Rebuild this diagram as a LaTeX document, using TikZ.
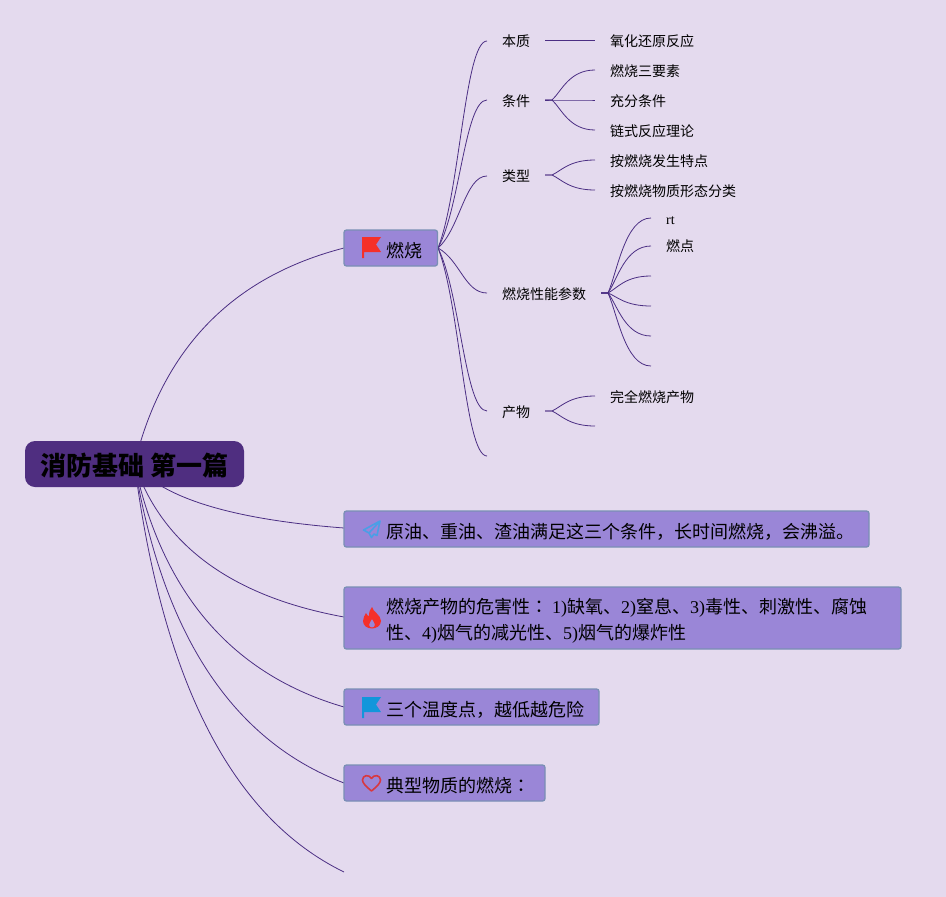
\documentclass[tikz,border=0pt]{standalone}
\usepackage{fontspec}
\setmainfont{Noto Sans CJK SC}
\newfontfamily\latfont{Liberation Serif}
\newfontfamily\jpfont{Noto Sans CJK JP}
\newcommand\Lat[1]{{\latfont #1}}
\newcommand\Colon{{\jpfont ：}}
\usetikzlibrary{calc}
\pgfdeclarelayer{bg}
\pgfsetlayers{bg,main}
\definecolor{bgcol}{HTML}{E4DAEE}
\definecolor{boxfill}{HTML}{9A86D7}
\definecolor{boxline}{HTML}{7A8FB5}
\definecolor{rootfill}{HTML}{4F2E80}
\definecolor{linkcol}{HTML}{4B2E83}
\definecolor{iconred}{HTML}{F5302A}
\definecolor{iconblue}{HTML}{1296DB}
\definecolor{planeblue}{HTML}{4A9FE6}
\definecolor{heartred}{HTML}{D8383F}
\tikzset{
  link/.style={draw=linkcol,line width=0.8pt},
  leaf/.style={anchor=west,inner sep=0pt,yshift=-2pt,text=black,font=\fontsize{14}{16}\selectfont,text height=.88em,text depth=.12em},
  topic/.style={anchor=west,inner sep=0pt,yshift=-1.5pt,text=black,font=\fontsize{18}{26}\selectfont},
  boxed/.style={draw=boxline,fill=boxfill,line width=1.3pt,rounded corners=2.5pt},
}
% first level: quadratic curve written as a cubic
\newcommand\rootlink[2]{\draw[link] let \p1=(#1),\p2=(#2),
  \n1={\x1+.1333*(\x2-\x1)},\n2={\y1+.5333*(\y2-\y1)},
  \n3={\x2-.5333*(\x2-\x1)},\n4={\y2-.1333*(\y2-\y1)} in
  (\p1) .. controls (\n1,\n2) and (\n3,\n4) .. (\p2);}
% second level: curve from the box
\newcommand\boxlink[2]{\draw[link] let \p1=(#1),\p2=(#2),
  \n1={\x1+.45*(\x2-\x1)},\n2={\y1+.27*(\y2-\y1)},\n3={\x1+.55*(\x2-\x1)} in
  (\p1) .. controls (\n1,\n2) and (\n3,\y2) .. (\p2);}
% third level: short straight stub, then curve
\newcommand\kidlink[2]{\draw[link] let \p1=(#1),\p2=(#2),
  \n5={\x1+7pt},
  \n1={\n5+.22*(\x2-\n5)},\n2={\y1+.29*(\y2-\y1)},\n3={\n5+.4*(\x2-\n5)} in
  (\p1) -- (\n5,\y1) .. controls (\n1,\n2) and (\n3,\y2) .. (\p2);}
\begin{document}
\begin{tikzpicture}[x=1pt,y=-1pt]
\useasboundingbox (0,0) rectangle (946,897);
\begin{pgfonlayer}{bg}
  \fill[bgcol] (0,0) rectangle (946,897);
\end{pgfonlayer}

% root
\node[fill=rootfill,rounded corners=10pt,minimum width=219pt,minimum height=46pt,inner sep=0pt,text=black,text height=26pt,text depth=3pt,font=\fontsize{26}{30}\selectfont\bfseries] (root) at (134.5,464) {消防基础 第一篇};

% first level boxes
\path[boxed] (344,230) rectangle (437.5,266);
\coordinate (b1) at (344,248);
\coordinate (b1e) at (438,248);
\path[boxed] (344,511) rectangle (869,547);
\coordinate (b2) at (344,528);
\path[boxed] (344,587) rectangle (901,649);
\coordinate (b3) at (344,617);
\path[boxed] (344,689) rectangle (599,725);
\coordinate (b4) at (344,707);
\path[boxed] (344,765) rectangle (545,801);
\coordinate (b5) at (344,783);
\coordinate (b6) at (344,872);

\node[topic] (t1) at (386,249) {燃烧};
\node[topic] (t2) at (386,530.5) {原油、重油、渣油满足这三个条件，长时间燃烧，会沸溢。};
\node[topic,align=left,yshift=-0.5pt] (t3) at (386,619) {燃烧产物的危害性\Colon{} \Lat{1)}缺氧、\Lat{2)}窒息、\Lat{3)}毒性、刺激性、腐蚀\\性、\Lat{4)}烟气的减光性、\Lat{5)}烟气的爆炸性};
\node[topic] (t4) at (386,708) {三个温度点，越低越危险};
\node[topic] (t5) at (386,784) {典型物质的燃烧\Colon};

% icons
\fill[iconred] (362,237) -- (381,237) -- (376,244.5) -- (381,252) -- (364,252) -- (364,258) -- (362,258) -- cycle;
\fill[iconblue] (362,697) -- (381,697) -- (376,704.5) -- (381,712) -- (364,712) -- (364,718) -- (362,718) -- cycle;
\draw[planeblue,line width=1.6pt,line join=round] (380,521) -- (363.5,530) -- (369,533) -- (371.5,537.5) -- (374,534) -- (377,535.5) -- cycle (380,521) -- (369,533);
\fill[iconred,even odd rule] (372,607) .. controls (373,612) and (381,615) .. (381,621)
  .. controls (381,626) and (376,628.5) .. (372,628.5)
  .. controls (367,628.5) and (363,625.5) .. (363,621)
  .. controls (363,617.5) and (365,615) .. (366,613)
  .. controls (367,615) and (368,616) .. (369,616)
  .. controls (369,612) and (370,609) .. (372,607) -- cycle
  (372,619) .. controls (371,621.5) and (369,622.5) .. (369,625)
  .. controls (369,626.5) and (370.5,627.5) .. (372,627.5)
  .. controls (373.5,627.5) and (375,626.5) .. (375,625)
  .. controls (375,622.5) and (373,621.5) .. (372,619) -- cycle;
\draw[heartred,line width=1.6pt,line join=round] (371.5,791) .. controls (366,786.5) and (362.5,783) .. (362.5,780)
  .. controls (362.5,775) and (369,774) .. (371.5,778.5)
  .. controls (374,774) and (380.5,775) .. (380.5,780)
  .. controls (380.5,783) and (377,786.5) .. (371.5,791) -- cycle;

% second level
\coordinate (c1) at (487,41);
\coordinate (c2) at (487,100);
\coordinate (c3) at (487,176);
\coordinate (c4) at (487,293);
\coordinate (c5) at (487,411);
\coordinate (c6) at (487,456);
\node[leaf] (n1) at (502,41) {本质};
\node[leaf] (n2) at (502,101) {条件};
\node[leaf] (n3) at (502,176) {类型};
\node[leaf] (n4) at (502,294) {燃烧性能参数};
\node[leaf] (n5) at (502,412) {产物};

% third level
\coordinate (s1) at (545,40);
\coordinate (e1) at (595,40);
\node[leaf] (l1) at (610,41) {氧化还原反应};
\coordinate (s2) at (545,100);
\coordinate (e21) at (595,70);
\coordinate (e22) at (595,100);
\coordinate (e23) at (595,130);
\node[leaf] (l21) at (610,71) {燃烧三要素};
\node[leaf] (l22) at (610,101) {充分条件};
\node[leaf] (l23) at (610,131) {链式反应理论};
\coordinate (s3) at (545,175);
\coordinate (e31) at (595,160);
\coordinate (e32) at (595,190);
\node[leaf] (l31) at (610,161) {按燃烧发生特点};
\node[leaf] (l32) at (610,191) {按燃烧物质形态分类};
\coordinate (s4) at (601,293);
\coordinate (e41) at (651,218);
\coordinate (e42) at (651,246);
\coordinate (e43) at (651,276);
\coordinate (e44) at (651,306);
\coordinate (e45) at (651,336);
\coordinate (e46) at (651,366);
\node[leaf] (l41) at (666,218.5) {\Lat{rt}};
\node[leaf] (l42) at (666,245.5) {燃点};
\coordinate (s5) at (545,411);
\coordinate (e51) at (595,396);
\coordinate (e52) at (595,426);
\node[leaf] (l51) at (610,397) {完全燃烧产物};

\begin{pgfonlayer}{bg}
  \rootlink{root.center}{b1}
  \rootlink{root.center}{b2}
  \rootlink{root.center}{b3}
  \rootlink{root.center}{b4}
  \rootlink{root.center}{b5}
  \rootlink{root.center}{b6}
  \boxlink{b1e}{c1}
  \boxlink{b1e}{c2}
  \boxlink{b1e}{c3}
  \boxlink{b1e}{c4}
  \boxlink{b1e}{c5}
  \boxlink{b1e}{c6}
  \draw[link] (s1) -- (e1);
  \kidlink{s2}{e21}
  \kidlink{s2}{e22}
  \kidlink{s2}{e23}
  \kidlink{s3}{e31}
  \kidlink{s3}{e32}
  \kidlink{s4}{e41}
  \kidlink{s4}{e42}
  \kidlink{s4}{e43}
  \kidlink{s4}{e44}
  \kidlink{s4}{e45}
  \kidlink{s4}{e46}
  \kidlink{s5}{e51}
  \kidlink{s5}{e52}
\end{pgfonlayer}
\end{tikzpicture}
\end{document}
